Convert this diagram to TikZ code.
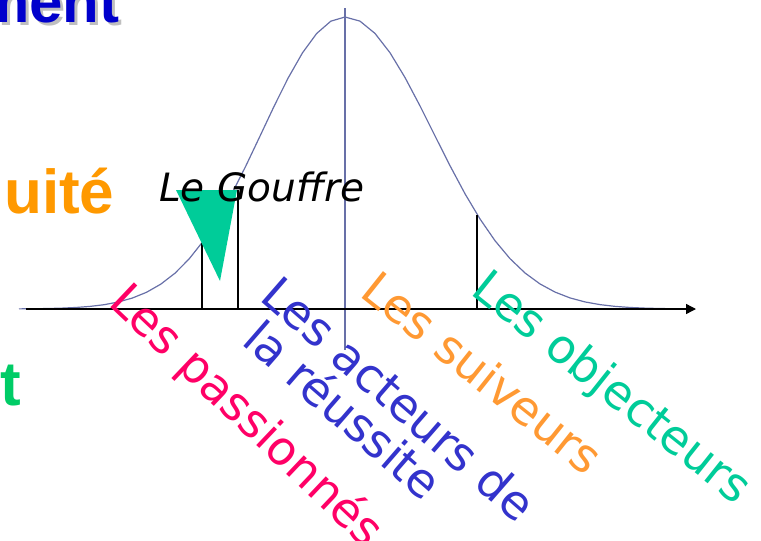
\documentclass[tikz,border=0pt]{standalone}
\usepackage{fontspec}
\setmainfont{DejaVu Sans}
\newfontfamily\slidefont{Liberation Sans}
\usetikzlibrary{arrows.meta}
\definecolor{curveblue}{RGB}{104,112,168}
\definecolor{pinklabel}{RGB}{255,0,102}
\definecolor{bluelabel}{RGB}{51,51,204}
\definecolor{orangelabel}{RGB}{255,153,51}
\definecolor{greenlabel}{RGB}{0,204,153}
\definecolor{titleblue}{RGB}{0,0,204}
\definecolor{titleorange}{RGB}{255,153,0}
\definecolor{titlegreen}{RGB}{0,204,102}

\begin{document}
\begin{tikzpicture}[
    x=1pt, y=-1pt,
    >={Triangle[length=10pt,width=10pt]},
    group/.style={anchor=base west, rotate=-41, inner sep=0pt, font=\fontsize{47}{47}\selectfont},
    cut/.style={anchor=base west, inner sep=0pt, font=\slidefont\bfseries\fontsize{62}{62}\selectfont},
    divider/.style={black, line width=1.4pt}
]
    \useasboundingbox (0,0) rectangle (761,541);
    \clip (0,0) rectangle (761,541);

    % bits of slide titles cut by the left edge
    \node[cut, gray!50, font=\slidefont\bfseries\fontsize{60}{60}\selectfont] (mentshadow) at (-21,25) {ment};
    \node[cut, titleblue, font=\slidefont\bfseries\fontsize{60}{60}\selectfont] (ment) at (-24,22) {ment};
    \node[cut, titleorange] (uite) at (4,213) {uité};
    \node[cut, titlegreen] (tfrag) at (0,405) {t};

    % bell curve
    \draw[curveblue, line width=1.2pt] plot[domain=19:345, samples=24]
        (\x, {309-292*exp(-0.5*((\x-345)/83)^2)});
    \draw[curveblue, line width=1.2pt] plot[domain=345:690, samples=24]
        (\x, {309-292*exp(-0.5*((\x-345)/88)^2)});
    \draw[curveblue, line width=1.2pt] (345,8) -- (345,350);

    % axis
    \coordinate (origin) at (26,309);
    \coordinate (axisend) at (696,309);
    \draw[->, line width=1.4pt] (origin) -- (axisend);

    % dividers
    \draw[divider] (202,243) -- (202,309);
    \draw[divider] (238,190) -- (238,309);
    \draw[divider] (477,215) -- (477,309);

    % the chasm
    \fill[greenlabel] (176,190) -- (237,190) -- (220,281) -- cycle;
    \node[anchor=base west, inner sep=0pt, font=\itshape\fontsize{39}{39}\selectfont] (gouffre) at (159,201) {Le Gouffre};

    % groups
    \node[group, pinklabel, rotate=-2.5] (passionnes) at (107,304) {Les passionnés};
    \node[group, bluelabel] (acteurs) at (258,299) {Les acteurs de};
    \node[group, bluelabel] (reussite) at (240,343) {la réussite};
    \node[group, orangelabel, rotate=2.5] (suiveurs) at (358,295) {Les suiveurs};
    \node[group, greenlabel, rotate=2.5] (objecteurs) at (469,293) {Les objecteurs};
\end{tikzpicture}
\end{document}
